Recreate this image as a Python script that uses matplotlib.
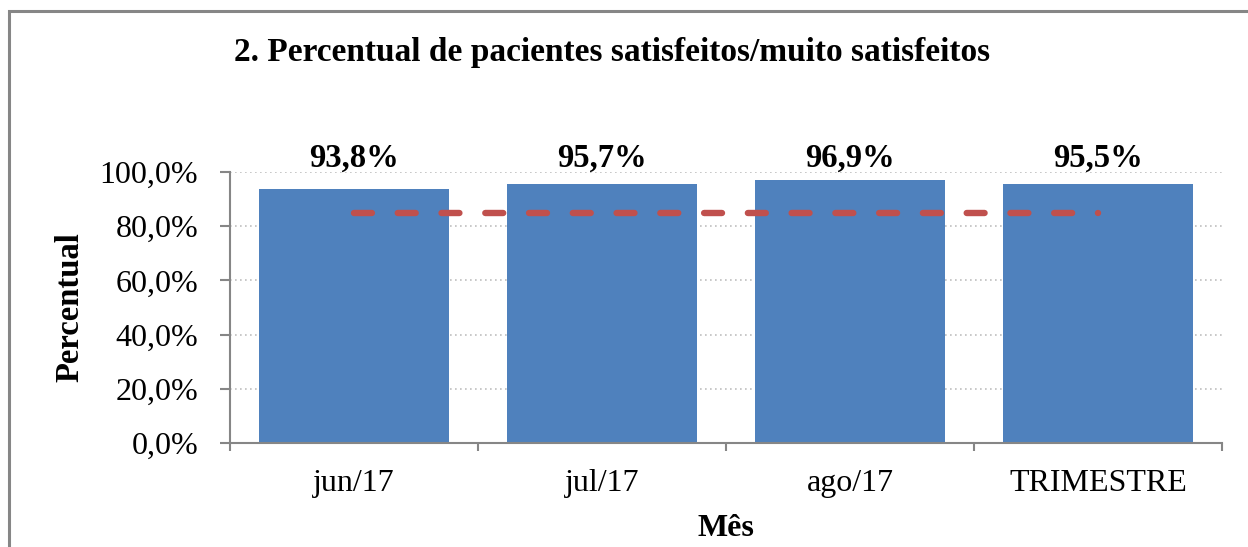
import matplotlib.pyplot as plt
import matplotlib.patches as patches
import numpy as np

# data
meses = ["jun/17", "jul/17", "ago/17", "TRIMESTRE"]
percentual = [93.8, 95.7, 96.9, 95.5]
meta = [85.0, 85.0, 85.0, 85.0]
rotulos = ["93,8%", "95,7%", "96,9%", "95,5%"]
yticks = [0, 20, 40, 60, 80, 100]

plt.rcParams["font.family"] = ["Liberation Serif", "DejaVu Serif"]

W, H = 1248, 547
fig = plt.figure(figsize=(W / 100, H / 100), dpi=100)

# chart area frame (runs off the right and bottom edges)
fig.patches.append(patches.Rectangle((9 / W, -0.1), 1.2, 1 - 11 / H + 0.1,
                                     transform=fig.transFigure, fill=False,
                                     edgecolor="#868686", linewidth=2.2))

ax = fig.add_axes([230 / W, 1 - 443 / H, (1222 - 230) / W, (443 - 172) / H])

x = np.arange(len(meses))
ax.bar(x, percentual, width=0.77, color="#4F81BD", zorder=2)
ax.plot(x, meta, color="#C0504D", linewidth=4.6, linestyle=(0, (2.8, 4.05)),
        dash_capstyle="round", zorder=3)

for xi, v, r in zip(x, percentual, rotulos):
    ax.text(xi, 99.3, r, ha="center", va="bottom", fontsize=23.5,
            fontweight="bold")

ax.set_xlim(-0.5, len(meses) - 0.5)
ax.set_ylim(0, 100)
ax.set_yticks(yticks)
ax.set_yticklabels(["%d,0%%" % t for t in yticks], fontsize=23)
ax.set_xticks(x)
ax.set_xticklabels(meses, fontsize=23)
ax.set_xticks(np.arange(len(meses) + 1) - 0.5, minor=True)
ax.tick_params(axis="x", which="major", length=0, pad=19)
ax.tick_params(axis="x", which="minor", length=6, color="#868686", width=1.5)
ax.tick_params(axis="y", length=7, color="#868686", width=1.5, pad=16)

ax.yaxis.grid(True, linestyle=(0, (1, 2)), color="#BFBFBF", linewidth=1.2,
              zorder=0)
ax.set_axisbelow(True)
for s in ["top", "right"]:
    ax.spines[s].set_visible(False)
for s in ["left", "bottom"]:
    ax.spines[s].set_color("#868686")
    ax.spines[s].set_linewidth(1.5)

ax.set_ylabel("Percentual", fontsize=23.5, fontweight="bold")
ax.set_xlabel("Mês", fontsize=23, fontweight="bold")
ax.yaxis.set_label_coords((70 - 230) / 992, 0.5)
ax.xaxis.set_label_coords(0.5, (443 - 528) / 271)
ax.xaxis.label.set_verticalalignment("center")
ax.yaxis.label.set_verticalalignment("center")

fig.text(612 / W, 1 - 52 / H, "2. Percentual de pacientes satisfeitos/muito satisfeitos",
         ha="center", va="center", fontsize=24, fontweight="bold")

fig.savefig("out.png", dpi=100)
